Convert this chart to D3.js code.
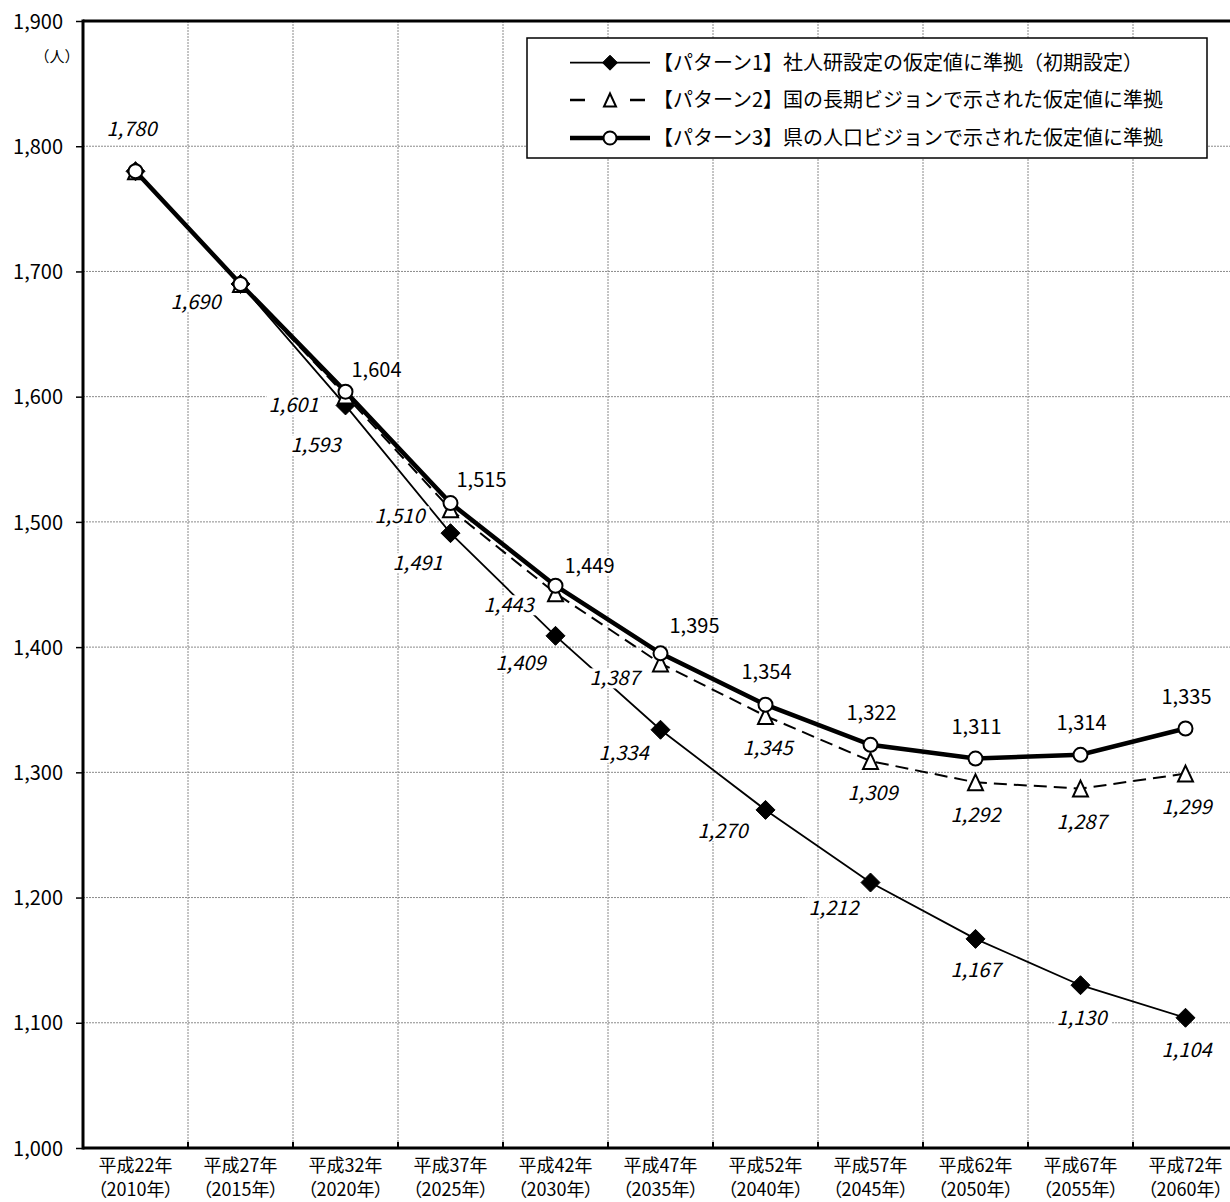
<!DOCTYPE html>
<html>
<head>
<meta charset="utf-8">
<script src="https://cdn.jsdelivr.net/npm/d3@7"></script>
<style>
body { margin: 0; background: #fff; }
text { font-family: "Noto Sans CJK JP", "Noto Sans", sans-serif; fill: #000; }
.cat { font-feature-settings: "palt"; }
</style>
</head>
<body>
<div id="chart"></div>
<script>
// data
const categories = ["平成22年", "平成27年", "平成32年", "平成37年", "平成42年", "平成47年",
	"平成52年", "平成57年", "平成62年", "平成67年", "平成72年"];
const yearLabels = ["（2010年）", "（2015年）", "（2020年）", "（2025年）", "（2030年）", "（2035年）",
	"（2040年）", "（2045年）", "（2050年）", "（2055年）", "（2060年）"];
const pattern1 = [1780, 1690, 1593, 1491, 1409, 1334, 1270, 1212, 1167, 1130, 1104];
const pattern2 = [1780, 1690, 1601, 1510, 1443, 1387, 1345, 1309, 1292, 1287, 1299];
const pattern3 = [1780, 1690, 1604, 1515, 1449, 1395, 1354, 1322, 1311, 1314, 1335];
const seriesNames = [
	"【パターン1】社人研設定の仮定値に準拠（初期設定）",
	"【パターン2】国の長期ビジョンで示された仮定値に準拠",
	"【パターン3】県の人口ビジョンで示された仮定値に準拠"
];
const yTicks = [1000, 1100, 1200, 1300, 1400, 1500, 1600, 1700, 1800, 1900];

// where each data label sits relative to its point (null = no label)
const labelOff1 = [[-4, -42], [-45, 18], [-30, 40], [-33, 30], [-35, 27], [-37, 23], [-43, 21], [-37, 25], [0, 31], [1, 33], [1, 32]];
const labelOff2 = [null, null, [-52, 10], [-51, 7], [-47, 12], [-46, 15], [2, 32], [2, 32], [0, 33], [1, 33], [1, 33]];
const labelOff3 = [null, null, [31, -22], [31, -23], [34, -20], [34, -27], [1, -33], [1, -32], [1, -32], [1, -32], [1, -32]];

var width = 1230;
var height = 1202;
var pLeft = 83, pTop = 21, pBottom = 1148, pRight = 1238;

var svg = d3.select("#chart").append("svg")
	.attr("width", width)
	.attr("height", height);

var x = d3.scaleBand().domain(categories).range([pLeft, pRight]);
var y = d3.scaleLinear().domain([1000, 1900]).range([pBottom, pTop]);
var cx = (i) => x(categories[i]) + x.bandwidth() / 2;

// grid
svg.append("g").selectAll("line")
	.data(yTicks.filter((d) => d > 1000 && d < 1900))
	.join("line")
	.attr("x1", pLeft).attr("x2", pRight)
	.attr("y1", (d) => y(d)).attr("y2", (d) => y(d))
	.attr("stroke", "#8a8a8a").attr("stroke-width", 1).attr("stroke-dasharray", "2,1");
svg.append("g").selectAll("line")
	.data(categories.slice(1))
	.join("line")
	.attr("x1", (d) => x(d)).attr("x2", (d) => x(d))
	.attr("y1", pTop).attr("y2", pBottom)
	.attr("stroke", "#8a8a8a").attr("stroke-width", 1).attr("stroke-dasharray", "2,1");

// y axis
var yAxis = svg.append("g")
	.attr("transform", "translate(" + pLeft + ",0)")
	.call(d3.axisLeft(y).tickValues(yTicks).tickFormat(d3.format(",")).tickSize(7).tickPadding(13));
yAxis.select(".domain").remove();
yAxis.selectAll(".tick line").attr("stroke-width", 1.5);
yAxis.selectAll(".tick text").style("font-size", "20px").attr("dy", "0.36em");

svg.append("line").attr("x1", pLeft).attr("x2", pLeft).attr("y1", pTop - 1.5).attr("y2", pBottom + 1.5)
	.attr("stroke", "#000").attr("stroke-width", 3);
svg.append("line").attr("x1", pLeft).attr("x2", width).attr("y1", pTop).attr("y2", pTop)
	.attr("stroke", "#000").attr("stroke-width", 3);
svg.append("line").attr("x1", pLeft).attr("x2", width).attr("y1", pBottom).attr("y2", pBottom)
	.attr("stroke", "#000").attr("stroke-width", 3);

// x ticks (inside) and labels
svg.append("g").selectAll("line")
	.data(categories.slice(1))
	.join("line")
	.attr("x1", (d) => x(d)).attr("x2", (d) => x(d))
	.attr("y1", pBottom - 6).attr("y2", pBottom)
	.attr("stroke", "#000").attr("stroke-width", 2);
var xg = svg.append("g").attr("class", "cat").style("font-size", "18px");
xg.selectAll("text.l1")
	.data(categories)
	.join("text")
	.attr("class", "l1")
	.attr("text-anchor", "middle")
	.attr("x", (d, i) => cx(i)).attr("y", 1172)
	.text((d) => d);
xg.selectAll("text.l2")
	.data(yearLabels)
	.join("text")
	.attr("class", "l2")
	.attr("text-anchor", "middle")
	.attr("x", (d, i) => cx(i)).attr("y", 1196)
	.text((d) => d);

svg.append("text").attr("x", 57).attr("y", 62).attr("text-anchor", "middle")
	.style("font-size", "15px").text("（人）");

// marker shapes
function diamond(r) {
	return "M0," + -r + "L" + r + ",0L0," + r + "L" + -r + ",0Z";
}
function triangle(w, h) {
	return "M0," + (-h / 2) + "L" + (w / 2) + "," + (h / 2) + "L" + (-w / 2) + "," + (h / 2) + "Z";
}

// series
var line = d3.line().x((d, i) => cx(i)).y((d) => y(d));

svg.append("path").datum(pattern1).attr("d", line)
	.attr("fill", "none").attr("stroke", "#000").attr("stroke-width", 1.8);
svg.append("g").selectAll("path").data(pattern1).join("path")
	.attr("transform", (d, i) => "translate(" + cx(i) + "," + y(d) + ")")
	.attr("d", diamond(9.5)).attr("fill", "#000")
	.attr("stroke", "#000").attr("stroke-width", 1).attr("stroke-linejoin", "round");

svg.append("path").datum(pattern2).attr("d", line)
	.attr("fill", "none").attr("stroke", "#000").attr("stroke-width", 2).attr("stroke-dasharray", "13,7");
svg.append("g").selectAll("path").data(pattern2).join("path")
	.attr("transform", (d, i) => "translate(" + cx(i) + "," + y(d) + ")")
	.attr("d", triangle(15, 16)).attr("fill", "#fff").attr("stroke", "#000").attr("stroke-width", 2);

svg.append("path").datum(pattern3).attr("d", line)
	.attr("fill", "none").attr("stroke", "#000").attr("stroke-width", 4.5);
svg.append("g").selectAll("circle").data(pattern3).join("circle")
	.attr("cx", (d, i) => cx(i)).attr("cy", (d) => y(d)).attr("r", 7)
	.attr("fill", "#fff").attr("stroke", "#000").attr("stroke-width", 2);

// data labels
function addLabels(values, offs, italic) {
	values.forEach(function (v, i) {
		if (!offs[i]) return;
		var lx = cx(i) + offs[i][0];
		var ly = y(v) + offs[i][1];
		var g = svg.append("g");
		var t = g.append("text")
			.attr("x", lx).attr("y", ly + 7)
			.attr("text-anchor", "middle")
			.style("font-size", "20px")
			.style("font-style", italic ? "italic" : "normal")
			.text(d3.format(",")(v));
		var bb = t.node().getBBox();
		g.insert("rect", "text")
			.attr("x", bb.x - 2).attr("y", ly - 10)
			.attr("width", bb.width + 4).attr("height", 20)
			.attr("fill", "#fff");
	});
}
addLabels(pattern1, labelOff1, true);
addLabels(pattern2, labelOff2, true);
addLabels(pattern3, labelOff3, false);

// legend
var lg = svg.append("g");
lg.append("rect").attr("x", 527).attr("y", 38).attr("width", 680).attr("height", 120)
	.attr("fill", "#fff").attr("stroke", "#000").attr("stroke-width", 1.5);
var rows = [62.7, 100, 138];
lg.append("line").attr("x1", 570).attr("x2", 650).attr("y1", rows[0]).attr("y2", rows[0])
	.attr("stroke", "#000").attr("stroke-width", 1.8);
lg.append("path").attr("transform", "translate(610," + rows[0] + ")").attr("d", diamond(7.5))
	.attr("fill", "#000").attr("stroke", "#000").attr("stroke-width", 1).attr("stroke-linejoin", "round");
lg.append("line").attr("x1", 570).attr("x2", 650).attr("y1", rows[1]).attr("y2", rows[1])
	.attr("stroke", "#000").attr("stroke-width", 2.5).attr("stroke-dasharray", "15,45");
lg.append("path").attr("transform", "translate(610," + rows[1] + ")").attr("d", triangle(12, 13))
	.attr("fill", "#fff").attr("stroke", "#000").attr("stroke-width", 2);
lg.append("line").attr("x1", 570).attr("x2", 650).attr("y1", rows[2]).attr("y2", rows[2])
	.attr("stroke", "#000").attr("stroke-width", 4.5);
lg.append("circle").attr("cx", 610).attr("cy", rows[2]).attr("r", 6.5)
	.attr("fill", "#fff").attr("stroke", "#000").attr("stroke-width", 2);
lg.selectAll("text.name").data(seriesNames).join("text")
	.attr("class", "name")
	.attr("x", 653).attr("y", (d, i) => rows[i] + 7)
	.style("font-size", "20px")
	.text((d) => d);
</script>
</body>
</html>
